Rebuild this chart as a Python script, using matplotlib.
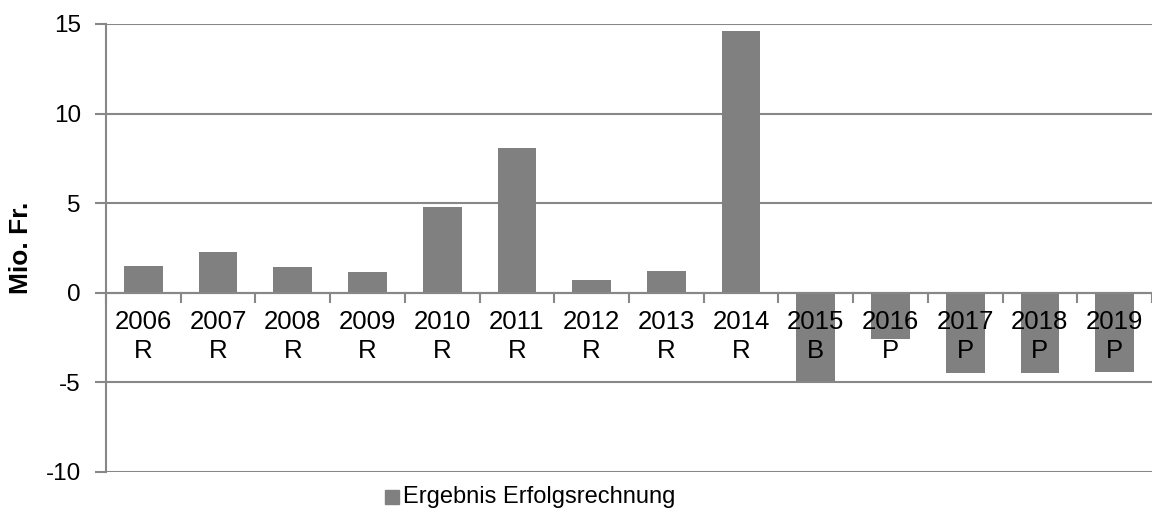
import numpy as np
import matplotlib.pyplot as plt

plt.rcParams['font.family'] = ['Liberation Sans', 'DejaVu Sans']

years = ['2006', '2007', '2008', '2009', '2010', '2011', '2012',
         '2013', '2014', '2015', '2016', '2017', '2018', '2019']
kinds = ['R', 'R', 'R', 'R', 'R', 'R', 'R', 'R', 'R', 'B', 'P', 'P', 'P', 'P']
values = [1.5, 2.3, 1.45, 1.15, 4.8, 8.1, 0.72, 1.2, 14.6,
          -4.9, -2.6, -4.5, -4.45, -4.4]
yticks = [-10, -5, 0, 5, 10, 15]

grey = '#878787'
bar_col = '#808080'

fig = plt.figure(figsize=(11.52, 5.08), dpi=100)
ax = fig.add_axes([106 / 1152, 1 - 472 / 508, 1 - 106 / 1152, 448 / 508])

x = np.arange(len(years))
ax.bar(x, values, width=0.52, color=bar_col, zorder=3, label='Ergebnis Erfolgsrechnung')

ax.set_xlim(-0.5, len(years) - 0.5)
ax.set_ylim(-10, 15)

# horizontal gridlines
for v in yticks:
    ax.axhline(v, color=grey, lw=1.5, zorder=1)

ax.set_yticks(yticks)
ax.set_yticklabels([str(v) for v in yticks], fontsize=17.5)
ax.tick_params(axis='y', length=8, width=1.5, color=grey, pad=10)

# category axis at zero, ticks between categories
ax.spines['bottom'].set_position(('data', 0))
ax.spines['bottom'].set_color(grey)
ax.spines['bottom'].set_linewidth(1.5)
ax.spines['bottom'].set_zorder(4)
ax.set_xticks(np.arange(len(years) + 1) - 0.5)
ax.set_xticklabels([])
ax.tick_params(axis='x', length=7, width=1.5, color=grey, direction='out')
for i in range(len(years)):
    ax.text(x[i], -0.95, years[i] + '\n' + kinds[i], ha='center', va='top',
            fontsize=18.5, linespacing=1.28, zorder=5)

ax.spines['left'].set_color(grey)
ax.spines['left'].set_linewidth(1.5)
ax.spines['top'].set_visible(False)
ax.spines['right'].set_visible(False)

fig.text(21 / 1152, 1 - 248 / 508, 'Mio. Fr.', rotation=90, ha='center', va='center',
         fontsize=19, fontweight='bold')

# legend
fig.patches.append(plt.Rectangle((385 / 1152, 1 - 504 / 508), 14 / 1152, 14 / 508,
                                 transform=fig.transFigure, color=bar_col))
fig.text(403 / 1152, 1 - 497 / 508, 'Ergebnis Erfolgsrechnung', ha='left', va='center',
         fontsize=17)

plt.savefig('out.png', dpi=100)
